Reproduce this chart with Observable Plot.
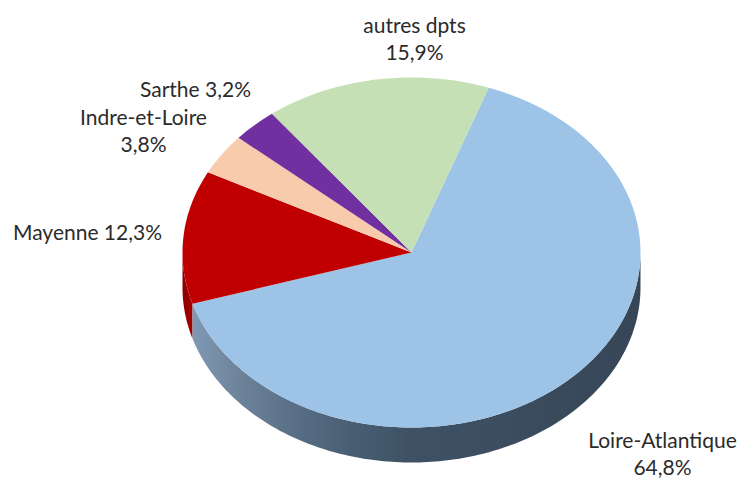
<!DOCTYPE html>
<html lang="fr">
<head>
<meta charset="utf-8">
<script src="https://cdn.jsdelivr.net/npm/d3@7"></script>
<script src="https://cdn.jsdelivr.net/npm/@observablehq/plot@0.6"></script>
<style>html,body{margin:0;padding:0;background:#fff}svg{display:block}</style>
</head>
<body>
<div id="chart"></div>
<script>
// Data, in drawing order (clockwise from the blue/green boundary)
const categories = ["Loire-Atlantique", "Mayenne", "Indre-et-Loire", "Sarthe", "autres dpts"];
const shares = [64.8, 12.3, 3.8, 3.2, 15.9];
const colors = ["#9dc3e6", "#c00000", "#f8cbad", "#7030a0", "#c5e0b4"];

// Labels
const labelTexts = ["Loire-Atlantique\n64,8%", "Mayenne 12,3%", "Indre-et-Loire\n3,8%", "Sarthe 3,2%", "autres dpts\n15,9%"];
const labelPx = [662, 87, 143, 195, 414];
const labelPy = [452, 231, 129.5, 88, 37];

// Pie geometry
const startAngle = 19.7, depth = 0.2;
const cx = 411, cy = 252, rx = 229, ry = 175;
const toX = (px) => (px - cx) / rx;
const toY = (py) => (cy - py) / ry;
const rad = (a) => (a * Math.PI) / 180;

let acc = startAngle;
const slices = categories.map((name, i) => {
  const a0 = acc;
  acc += (shares[i] / 100) * 360;
  return {name, a0, a1: acc};
});

function arc(a0, a1, dy = 0) {
  const n = Math.max(2, Math.ceil(a1 - a0));
  return d3.range(n + 1).map((k) => {
    const a = rad(a0 + ((a1 - a0) * k) / n);
    return {x: Math.sin(a), y: Math.cos(a) - dy};
  });
}
const topPoints = slices.flatMap((s) =>
  [{x: 0, y: 0}, ...arc(s.a0, s.a1)].map((p) => ({...p, name: s.name}))
);
function sidePoints(s) {
  const a0 = Math.max(s.a0, 90), a1 = Math.min(s.a1, 270);
  return [...arc(a0, a1), ...arc(a0, a1, depth).reverse()];
}

const gradient = () => {
  const defs = d3.create("svg:defs");
  const g = defs.append("linearGradient").attr("id", "sideBlue");
  [[0, "#8099b3"], [0.11, "#6c8299"], [0.24, "#566d84"], [0.35, "#4a5f74"], [0.48, "#3f5265"], [1, "#364657"]]
    .forEach(([o, c]) => g.append("stop").attr("offset", o).attr("stop-color", c));
  const r = defs.append("linearGradient").attr("id", "sideRed");
  [[0, "#8a0000"], [1, "#a80000"]]
    .forEach(([o, c]) => r.append("stop").attr("offset", o).attr("stop-color", c));
  return defs.node();
};

const chart = Plot.plot({
  width: 739,
  height: 478,
  margin: 0,
  style: {background: "#fff", overflow: "visible"},
  x: {domain: [-1, 1], range: [cx - rx, cx + rx], axis: null},
  y: {domain: [-1, 1], range: [cy + ry, cy - ry], axis: null},
  color: {domain: categories, range: colors},
  marks: [
    gradient,
    Plot.line(sidePoints(slices[1]), {x: "x", y: "y", fill: "url(#sideRed)", stroke: "none", curve: "linear"}),
    Plot.line(sidePoints(slices[0]), {x: "x", y: "y", fill: "url(#sideBlue)", stroke: "none", curve: "linear"}),
    Plot.line(topPoints, {x: "x", y: "y", z: "name", fill: "name", stroke: "none", curve: "linear"}),
    Plot.text(labelTexts, {
      x: (d, i) => toX(labelPx[i]),
      y: (d, i) => toY(labelPy[i]),
      text: (d) => d,
      fontFamily: "Lato, 'Open Sans', sans-serif",
      fontSize: 21,
      lineHeight: 1.29,
      fill: "#2b2b2b",
      textAnchor: "middle",
      clip: false
    })
  ]
});
document.getElementById("chart").append(chart);
</script>
</body>
</html>
